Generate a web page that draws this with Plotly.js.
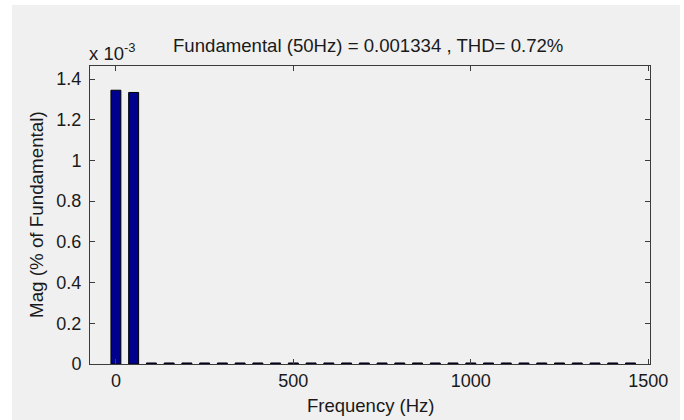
<!DOCTYPE html>
<html><head><meta charset="utf-8">
<script src="https://cdn.plot.ly/plotly-3.0.1.min.js"></script>
<style>html,body{margin:0;padding:0;background:#fff}</style></head>
<body><div id="chart" style="width:684px;height:420px"></div>
<script>
const freqs = [0,50,100,150,200,250,300,350,400,450,500,550,600,650,700,750,800,850,900,950,1000,1050,1100,1150,1200,1250,1300,1350,1400,1450];
const mags = [1.345e-3,1.334e-3,5e-6,5e-6,5e-6,5e-6,5e-6,5e-6,5e-6,5e-6,5e-6,5e-6,5e-6,5e-6,5e-6,5e-6,5e-6,5e-6,5e-6,5e-6,5e-6,5e-6,5e-6,5e-6,5e-6,5e-6,5e-6,5e-6,5e-6,5e-6];
const yTickVals = [0,0.2e-3,0.4e-3,0.6e-3,0.8e-3,1.0e-3,1.2e-3,1.4e-3];
const yTickText = ['0','0.2','0.4','0.6','0.8','1','1.2','1.4'];
const xTickVals = [0,500,1000,1500];
const xTickText = ['0','500','1000','1500'];
const titleText = 'Fundamental (50Hz) = 0.001334 , THD= 0.72%';
const xLabel = 'Frequency (Hz)';
const yLabel = 'Mag (% of Fundamental)';

const FONT = 'Liberation Sans, Arial, sans-serif';
const TXT = '#1a1a1a';
const AX = '#3c3c3c';

const trace = {
  type: 'bar', x: freqs, y: mags,
  marker: {color: '#00008f', line: {color: '#000', width: 1}},
  hoverinfo: 'none'
};

const layout = {
  width: 684, height: 420,
  margin: {l: 90, r: 34, t: 66, b: 56, pad: 0},
  paper_bgcolor: '#ffffff',
  plot_bgcolor: '#ffffff',
  bargap: 0.44,
  showlegend: false,
  font: {family: FONT, size: 18, color: TXT},
  xaxis: {
    range: [-73, 1505], tickvals: xTickVals, ticktext: xTickText,
    ticks: 'inside', ticklen: 5, tickcolor: AX, tickwidth: 1,
    showline: true, linecolor: AX, linewidth: 1, mirror: 'ticks',
    showgrid: false, zeroline: false,
    tickfont: {family: FONT, size: 18, color: TXT}
  },
  yaxis: {
    range: [0, 1.464e-3], tickvals: yTickVals, ticktext: yTickText,
    ticks: 'inside', ticklen: 5, tickcolor: AX, tickwidth: 1,
    showline: true, linecolor: AX, linewidth: 1, mirror: 'ticks',
    showgrid: false, zeroline: false, ticklabelstandoff: 4,
    tickfont: {family: FONT, size: 18, color: TXT}
  },
  shapes: [{
    type: 'rect', xref: 'paper', yref: 'paper', layer: 'below',
    x0: -0.1393, x1: 1.0536, y0: -0.19, y1: 1.2047,
    fillcolor: '#f0f0f0', line: {width: 0}
  }],
  annotations: [
    {text: titleText, xref: 'paper', yref: 'paper', x: 0.5, xshift: -2, y: 1.0, yshift: 21, yanchor: 'middle',
     showarrow: false, font: {family: FONT, size: 18.6, color: TXT}},
    {text: 'x 10<sup>-3</sup>', xref: 'paper', yref: 'paper', x: 0, xshift: -3, xanchor: 'left', y: 1.0, yshift: 14, yanchor: 'middle',
     showarrow: false, font: {family: FONT, size: 18.5, color: TXT}},
    {text: xLabel, xref: 'paper', yref: 'paper', x: 0.5, y: 0, yshift: -41, yanchor: 'middle',
     showarrow: false, font: {family: FONT, size: 18.5, color: TXT}},
    {text: yLabel, xref: 'paper', yref: 'paper', x: 0, xshift: -54, y: 0.5, textangle: -90, xanchor: 'center',
     showarrow: false, font: {family: FONT, size: 18.8, color: TXT}}
  ]
};

Plotly.newPlot('chart', [trace], layout, {displayModeBar: false, staticPlot: true});
</script></body></html>
